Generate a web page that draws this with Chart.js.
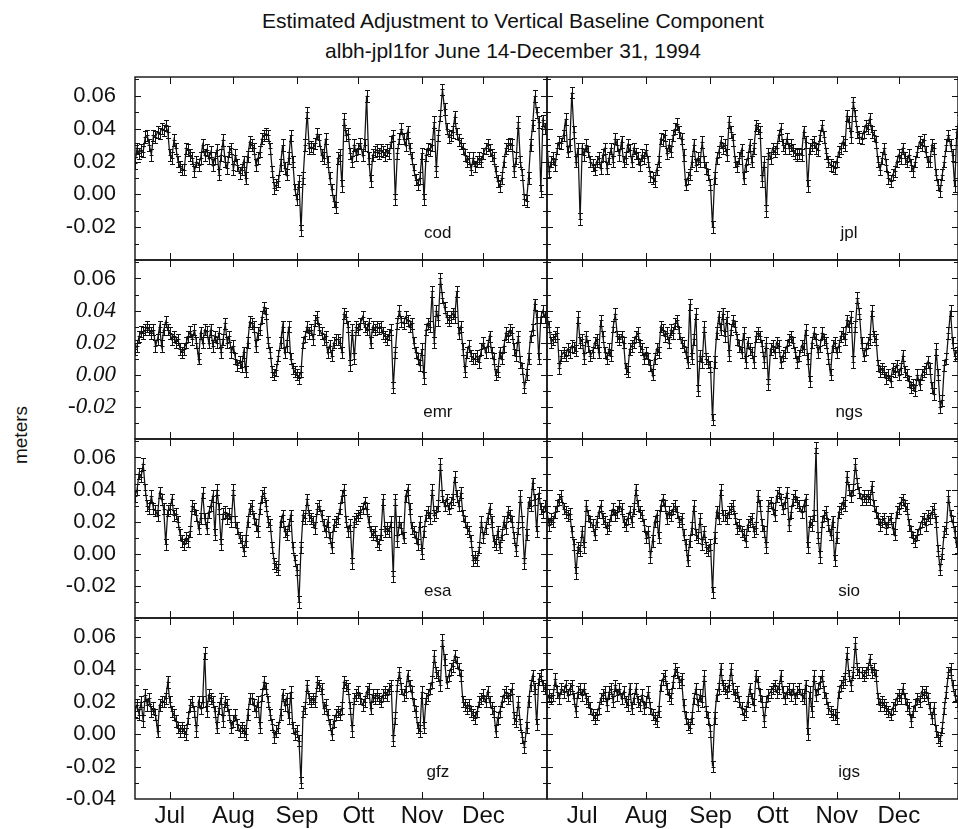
<!DOCTYPE html>
<html>
<head>
<meta charset="utf-8">
<title>Estimated Adjustment to Vertical Baseline Component</title>
<script src="https://cdn.jsdelivr.net/npm/chart.js@4.4.1/dist/chart.umd.min.js"></script>
<style>
  html, body { margin: 0; padding: 0; background: #fff; overflow: hidden; }
  #page { position: relative; width: 958px; height: 829px; overflow: hidden;
          font-family: "Liberation Sans", Arial, sans-serif; color: #111; }
  .title { position: absolute; left: 213px; width: 600px; text-align: center;
           font-size: 21px; line-height: 24px; white-space: nowrap; }
  #ylab { position: absolute; left: 21px; top: 435px; font-size: 19px;
          transform: translate(-50%, -50%) rotate(-90deg); white-space: nowrap; }
  canvas { position: absolute; }
</style>
</head>
<body>
<div id="page">
  <div class="title" style="top:9px">Estimated Adjustment to Vertical Baseline Component</div>
  <div class="title" style="top:39px">albh-jpl1for June 14-December 31, 1994</div>
  <div id="ylab">meters</div>
</div>

<script>
// Daily values, June 14 (index 0) to December 31 (index 200), in millimetres
const cod = [
  19, 28, 25, 27, 26, 35, 36, 30, 24, 36,
  35, 38, 37, 40, 39, 42, 38, 24, 22, 33,
  28, 20, 17, 15, 15, 28, 27, 24, 22, 14,
  20, 18, 22, 30, 24, 27, 22, 26, 18, 22,
  27, 12, 24, 33, 20, 16, 26, 28, 15, 24,
  18, 13, 15, 20, 10, 23, 32, 30, 28, 18,
  22, 26, 34, 36, 37, 36, 28, 14, 4, 6,
  8, 18, 30, 16, 12, 22, 36, 20, 3, -3,
  8, -22, 10, 30, 50, 28, 29, 28, 31, 37,
  33, 24, 22, 34, 20, 10, 3, -4, -8, 22,
  24, 5, 46, 36, 37, 25, 20, 30, 24, 28,
  31, 24, 30, 60, 22, 8, 24, 26, 27, 25,
  27, 26, 24, 27, 25, 32, 36, -3, 25, 34,
  40, 34, 30, 38, 28, 22, 15, 9, 6, 10,
  25, -3, 24, 28, 27, 30, 44, 14, 36, 48,
  64, 52, 40, 35, 36, 38, 47, 37, 33, 31,
  28, 24, 20, 22, 15, 22, 17, 20, 22, 20,
  25, 28, 30, 27, 24, 22, 14, 8, 5, 10,
  20, 28, 30, 31, 30, 14, 22, 44, 20, 12,
  -3, -4, 10, 30, 42, 60, 50, 44, 2, 45,
  40
];
const jpl = [
  30, 14, 20, 22, 18, 28, 32, 31, 36, 46,
  26, 30, 62, 38, 20, 28, -15, 28, 24, 30,
  26, 20, 18, 15, 20, 22, 16, 24, 28, 16,
  22, 28, 20, 34, 30, 24, 32, 20, 22, 30,
  27, 20, 28, 25, 22, 18, 24, 22, 27, 20,
  11, 10, 8, 15, 20, 34, 33, 36, 25, 30,
  26, 36, 40, 43, 38, 34, 24, 6, 10, 12,
  20, 30, 18, 22, 20, 32, 20, 16, 12, 6,
  -20, 10, 22, 26, 32, 28, 30, 24, 44, 38,
  33, 20, 17, 22, 27, 10, 18, 22, 30, 20,
  28, 42, 40, 38, 8, 20, -10, 25, 22, 28,
  26, 28, 36, 40, 30, 28, 34, 28, 30, 27,
  25, 24, 25, 24, 38, 32, 5, 28, 30, 32,
  28, 27, 36, 42, 35, 25, 20, 18, 17, 16,
  20, 26, 28, 32, 30, 48, 44, 35, 56, 48,
  38, 35, 34, 38, 42, 40, 46, 38, 36, 32,
  20, 15, 22, 28, 18, 10, 8, 12, 14, 20,
  24, 22, 28, 22, 20, 24, 18, 14, 20, 26,
  32, 30, 33, 26, 20, 20, 30, 28, 12, 6,
  2, 12, 20, 30, 36, 30, 24, 5, 38, 45,
  40
];
const emr = [
  16, 18, 24, 27, 26, 28, 30, 28, 26, 28,
  18, 22, 30, 18, 28, 33, 28, 26, 22, 24,
  20, 22, 16, 14, 16, 20, 24, 27, 22, 28,
  20, 10, 26, 20, 28, 27, 20, 28, 18, 24,
  20, 26, 14, 22, 32, 20, 24, 14, 18, 10,
  6, 8, 5, 14, 2, 20, 33, 32, 30, 18,
  26, 28, 36, 42, 38, 20, 14, 2, 0, 3,
  12, 20, 30, 14, 18, 30, 10, 4, 2, 0,
  -2, 2, 20, 24, 30, 26, 28, 22, 34, 36,
  28, 26, 22, 24, 14, 18, 12, 20, 22, 22,
  20, 14, 38, 36, 30, 6, 28, 10, 30, 28,
  32, 36, 30, 28, 32, 20, 30, 28, 30, 29,
  30, 26, 24, 22, 25, 28, -8, 14, 32, 40,
  33, 32, 36, 34, 30, 32, 20, 14, 10, 6,
  16, -2, 28, 32, 30, 52, 20, 40, 34, 60,
  48, 42, 36, 34, 36, 38, 36, 52, 26, 30,
  16, 2, 14, 18, 12, 10, 10, 12, 8, 16,
  20, 14, 18, 24, 14, 10, 0, 2, 14, 10,
  18, 26, 24, 28, 26, 16, 12, 24, 8, 4,
  -8, 0, 10, 24, 28, 44, 36, 10, 36, 40,
  36
];
const ngs = [
  36, 30, 20, 22, 24, 26, 4, 12, 14, 12,
  16, 14, 18, 17, 15, 36, 20, 22, 10, 24,
  18, 12, 14, 20, 22, 14, 34, 24, 14, 10,
  16, 12, 30, 38, 24, 22, 24, 20, 4, 2,
  16, 18, 20, 24, 26, 18, 16, 10, 14, 10,
  6, 0, 10, 16, 14, 30, 28, 24, 26, 20,
  28, 26, 32, 34, 26, 20, 18, 14, 8, 44,
  10, 22, 38, -10, 12, 8, 30, 10, 8, 5,
  -28, 8, 26, 36, 28, 38, 24, 36, 12, 28,
  34, 30, 22, 18, 14, 26, 8, 20, 16, 14,
  8, 24, 26, 24, 18, 8, 20, -6, 16, 18,
  14, 20, 18, 8, 12, 14, 18, 22, 24, 20,
  14, 8, 12, 18, 16, 28, 10, -4, 20, 26,
  22, 14, 18, 26, 22, 20, 10, 0, 18, 20,
  14, 18, 24, 26, 22, 34, 30, 36, 8, 30,
  48, 38, 20, 12, 16, 20, 22, 40, 24, 22,
  6, 2, 4, 2, -2, 0, -4, 4, 2, 6,
  0, 4, 12, 2, 0, -4, -8, -6, -10, 0,
  -6, 0, 2, 4, 8, 4, -8, -12, 16, 0,
  -20, -16, 6, 10, 26, 40, 20, 12, 14, 18,
  16
];
const esa = [
  36, 40, 50, 48, 56, 40, 30, 28, 36, 28,
  27, 24, 38, 34, 28, 6, 27, 28, 34, 24,
  25, 20, 12, 8, 6, 10, 8, 14, 30, 28,
  24, 16, 22, 38, 22, 16, 26, 30, 36, 12,
  40, 28, 6, 25, 26, 22, 25, 20, 40, 20,
  16, 10, 8, 2, 8, 20, 28, 30, 22, 18,
  14, 28, 36, 38, 30, 20, 18, 4, -6, -8,
  -10, 20, 24, 14, 12, 18, 24, 4, -4, -10,
  -30, 4, 24, 22, 34, 24, 22, 20, 16, 28,
  30, 24, 18, 14, 20, 10, 4, 18, 20, 22,
  28, 36, 40, 20, 14, 18, -6, 20, 22, 24,
  26, 28, 32, 28, 20, 14, 12, 14, 8, 6,
  12, 34, 14, 16, 14, 20, -14, 34, 8, 20,
  16, 10, 36, 40, 28, 16, 14, 10, 6, 20,
  0, 14, 24, 26, 22, 40, 24, 26, 30, 56,
  36, 30, 34, 28, 32, 34, 48, 36, 30, 38,
  24, 20, 16, 14, 8, -4, -2, -4, 4, 20,
  10, 16, 22, 28, 20, 8, 6, 14, 4, 12,
  20, 16, 26, 24, 20, 10, 2, 16, 36, 20,
  -6, 12, 32, 30, 44, 34, 14, 38, 28, 26,
  30
];
const sio = [
  26, 18, 22, 20, 26, 30, 34, 36, 28, 26,
  24, 25, 14, 6, -12, 4, 2, 14, 4, 30,
  24, 20, 18, 12, 20, 26, 30, 22, 20, 16,
  18, 24, 28, 24, 26, 30, 28, 20, 18, 22,
  26, 20, 28, 40, 30, 26, 24, 18, 10, 14,
  -2, 8, 20, 24, 10, 30, 34, 30, 22, 26,
  24, 28, 30, 26, 20, 22, 12, 6, -4, 8,
  16, 30, 12, 10, 22, 6, 14, 4, 2, 6,
  -24, 10, 26, 22, 40, 24, 24, 22, 26, 28,
  30, 22, 16, 18, 14, 12, 8, 18, 20, 22,
  14, 16, 36, 30, 18, 14, 4, 30, 32, 28,
  24, 36, 38, 34, 28, 32, 38, 18, 26, 34,
  36, 32, 30, 26, 30, 34, 4, 20, 18, 24,
  66, 10, -2, 20, 24, 26, 18, 12, 20, -4,
  10, 26, 28, 32, 30, 48, 40, 36, 40, 56,
  44, 38, 34, 36, 34, 36, 34, 42, 30, 26,
  22, 18, 20, 22, 16, 20, 22, 16, 12, 26,
  28, 32, 34, 30, 28, 18, 14, 10, 8, 12,
  16, 20, 22, 18, 24, 22, 26, 28, 20, 2,
  -10, 0, 14, 16, 36, 24, 20, 14, 4, 22,
  26
];
const gfz = [
  14, 18, 12, 20, 8, 24, 18, 22, 14, 16,
  12, 2, 18, 20, 20, 22, 32, 20, 14, 12,
  8, 4, 2, 4, 2, 0, 10, 18, 20, 14,
  2, 20, 16, 20, 50, 14, 24, 22, 20, 14,
  4, 16, 22, 8, 20, 18, 12, 4, 8, 12,
  6, 2, 4, 2, 0, 12, 22, 22, 18, 14,
  20, 4, 24, 32, 28, 20, 12, 6, -2, 2,
  4, 12, 24, 18, 22, 10, 26, 4, 0, 2,
  -4, -30, 14, 16, 30, 22, 20, 22, 20, 32,
  30, 28, 16, 18, 12, 6, 0, 8, 12, 14,
  12, 16, 32, 30, 28, 16, 2, 22, 24, 26,
  22, 18, 20, 26, 28, 16, 24, 22, 24, 22,
  20, 24, 26, 24, 28, 30, -4, 10, 30, 38,
  28, 24, 26, 36, 30, 26, 18, 14, 4, 2,
  26, 4, 22, 24, 28, 32, 48, 38, 36, 30,
  58, 46, 32, 36, 40, 42, 48, 44, 40, 36,
  20, 18, 16, 18, 14, 12, 10, 14, 20, 22,
  24, 20, 26, 20, 16, 14, 2, 10, 14, 20,
  24, 26, 22, 24, 28, 10, 8, 20, 6, -2,
  -8, 4, 20, 30, 36, 28, 6, 34, 36, 30,
  28
];
const igs = [
  20, 24, 22, 24, 34, 26, 22, 28, 26, 30,
  24, 28, 30, 22, 14, 26, 28, 24, 28, 22,
  20, 16, 12, 10, 12, 16, 22, 24, 26, 18,
  26, 28, 20, 30, 24, 28, 22, 26, 20, 18,
  28, 16, 22, 28, 20, 18, 24, 16, 20, 26,
  16, 12, 10, 8, 14, 30, 34, 36, 28, 24,
  22, 32, 40, 38, 32, 34, 18, 10, 6, 4,
  10, 22, 28, 18, 24, 20, 36, 14, 10, 2,
  -20, 10, 24, 28, 40, 30, 28, 26, 30, 40,
  28, 24, 26, 20, 16, 12, 14, 20, 28, 22,
  18, 36, 32, 24, 20, 8, 20, 24, 26, 28,
  30, 26, 28, 36, 26, 22, 26, 28, 24, 28,
  22, 26, 28, 24, 22, 30, 0, 26, 14, 36,
  24, 28, 32, 36, 26, 22, 16, 14, 12, 12,
  10, 26, 30, 32, 34, 50, 36, 30, 38, 56,
  40, 38, 38, 36, 38, 40, 46, 38, 40, 36,
  22, 18, 20, 18, 16, 14, 12, 16, 18, 22,
  24, 22, 28, 22, 18, 16, 8, 14, 18, 22,
  20, 26, 24, 26, 22, 16, 10, 16, 2, -2,
  -4, 4, 16, 26, 38, 40, 30, 24, 20, 18,
  16
];

// Axis ticks
const monthStarts = [17, 48, 79, 109, 140, 170];   // day index of the 1st of each month
const monthLabels = ["Jul", "Aug", "Sep", "Ott", "Nov", "Dec"];
const yTicks = [-0.02, 0, 0.02, 0.04, 0.06];
const yTicksBottom = [-0.04, -0.02, 0, 0.02, 0.04, 0.06];
const errorHalfWidth = 0.0035; // typical error bar size, meters

// Panel grid (page pixels)
const ROW_EDGES = [77, 260, 439, 618, 799];
const COL_EDGES = [135, 547, 958];
const X_MAX = [201, 198.6];
const PAD = 16;
const AXIS_H = 40;
const FONT = '"Liberation Sans", Arial, sans-serif';
const INK = "#111";

const panels = [
  { name: "cod", data: cod, row: 0, col: 0 },
  { name: "jpl", data: jpl, row: 0, col: 1 },
  { name: "emr", data: emr, row: 1, col: 0 },
  { name: "ngs", data: ngs, row: 1, col: 1 },
  { name: "esa", data: esa, row: 2, col: 0 },
  { name: "sio", data: sio, row: 2, col: 1 },
  { name: "gfz", data: gfz, row: 3, col: 0 },
  { name: "igs", data: igs, row: 3, col: 1 }
];

// error bars with caps plus a short tick at each value
const errorBars = {
  id: "errorBars",
  afterDatasetsDraw(chart) {
    const { ctx, chartArea: a, scales: { x, y } } = chart;
    ctx.save();
    ctx.beginPath();
    ctx.rect(a.left, a.top, a.right - a.left, a.bottom - a.top);
    ctx.clip();
    ctx.strokeStyle = INK;
    ctx.lineWidth = 1;
    ctx.beginPath();
    chart.data.datasets[0].data.forEach(pt => {
      const px = Math.round(x.getPixelForValue(pt.x)) + 0.5;
      const hi = Math.round(y.getPixelForValue(pt.y + errorHalfWidth)) + 0.5;
      const lo = Math.round(y.getPixelForValue(pt.y - errorHalfWidth)) + 0.5;
      const py = Math.round(y.getPixelForValue(pt.y)) + 0.5;
      ctx.moveTo(px, hi); ctx.lineTo(px, lo);
      ctx.moveTo(px - 2.5, hi); ctx.lineTo(px + 2.5, hi);
      ctx.moveTo(px - 2.5, lo); ctx.lineTo(px + 2.5, lo);
      ctx.moveTo(px - 2, py); ctx.lineTo(px + 2, py);
    });
    ctx.stroke();
    ctx.restore();
  }
};

// frame, inward tick marks and the panel name
const panelDecor = {
  id: "panelDecor",
  afterDraw(chart, args, opts) {
    const { ctx, chartArea: a, scales: { x, y } } = chart;
    ctx.save();
    ctx.strokeStyle = INK;
    ctx.lineWidth = 1;
    ctx.beginPath();
    for (let k = -4; k <= 7; k++) {
      const py = Math.round(y.getPixelForValue(k / 100)) + 0.5;
      if (py < a.top + 2 || py > a.bottom - 2) continue;
      const len = k % 2 === 0 ? 6 : 4;
      ctx.moveTo(a.left, py); ctx.lineTo(a.left + len, py);
      ctx.moveTo(a.right, py); ctx.lineTo(a.right - len, py);
    }
    monthStarts.forEach(m => {
      const px = Math.round(x.getPixelForValue(m)) + 0.5;
      ctx.moveTo(px, a.top); ctx.lineTo(px, a.top + 7);
      ctx.moveTo(px, a.bottom); ctx.lineTo(px, a.bottom - 7);
    });
    ctx.stroke();
    ctx.lineWidth = 1.4;
    ctx.strokeRect(a.left, a.top, a.right - a.left, a.bottom - a.top);
    ctx.fillStyle = INK;
    ctx.font = "17px " + FONT;
    ctx.textAlign = "center";
    ctx.textBaseline = "middle";
    ctx.fillText(opts.name, a.left + 0.735 * (a.right - a.left), a.bottom - 27);
    ctx.restore();
  }
};

// keep label overflow from shrinking the plot box
function noPadding(s) {
  s.paddingTop = 0;
  s.paddingBottom = 0;
  s.paddingLeft = 0;
  s.paddingRight = 0;
}

function makePanel(p) {
  const isLeft = p.col === 0;
  const isBottom = p.row === 3;
  const top = ROW_EDGES[p.row], bottom = ROW_EDGES[p.row + 1];
  const left = COL_EDGES[p.col], right = COL_EDGES[p.col + 1];
  const boxLeft = isLeft ? 0 : left - PAD;
  const boxWidth = right + PAD - boxLeft;
  const boxTop = top - PAD;
  const boxHeight = (bottom - top) + PAD + (isBottom ? AXIS_H : PAD);

  const canvas = document.createElement("canvas");
  canvas.width = boxWidth;
  canvas.height = boxHeight;
  canvas.style.left = boxLeft + "px";
  canvas.style.top = boxTop + "px";
  canvas.style.width = boxWidth + "px";
  canvas.style.height = boxHeight + "px";
  document.getElementById("page").appendChild(canvas);

  new Chart(canvas, {
    type: "line",
    data: {
      datasets: [{
        data: p.data.map((v, i) => ({ x: i, y: v / 1000 })),
        borderColor: INK,
        borderWidth: 1.25,
        pointRadius: 0,
        tension: 0
      }]
    },
    options: {
      responsive: false,
      animation: false,
      devicePixelRatio: 1,
      layout: { padding: { left: isLeft ? 0 : PAD, right: PAD, top: PAD, bottom: isBottom ? 0 : PAD } },
      plugins: {
        legend: { display: false },
        tooltip: { enabled: false },
        panelDecor: { name: p.name }
      },
      scales: {
        x: {
          type: "linear",
          min: 0,
          max: X_MAX[p.col],
          display: isBottom,
          grid: { display: false, drawTicks: false },
          border: { display: false },
          afterBuildTicks: s => { s.ticks = monthStarts.map(v => ({ value: v })); },
          afterFit: s => { s.height = isBottom ? AXIS_H : 0; noPadding(s); },
          ticks: {
            autoSkip: false,
            maxRotation: 0,
            padding: 3,
            color: INK,
            font: { family: FONT, size: 24 },
            callback: v => monthLabels[monthStarts.indexOf(v)]
          }
        },
        y: {
          min: -0.04,
          max: 0.0715,
          display: isLeft,
          grid: { display: false, drawTicks: false },
          border: { display: false },
          afterBuildTicks: s => { s.ticks = (isBottom ? yTicksBottom : yTicks).map(v => ({ value: v })); },
          afterFit: s => { s.width = isLeft ? COL_EDGES[0] : 0; noPadding(s); },
          ticks: {
            padding: 19,
            color: INK,
            // the second row of the original is printed in an italic serif face
            font: ctx => (p.row === 1 && ctx.tick && ctx.tick.value < 0.05)
              ? { family: '"Liberation Serif", serif', style: "italic", size: 23 }
              : { family: FONT, size: 22 },
            callback: v => v.toFixed(2)
          }
        }
      }
    },
    plugins: [errorBars, panelDecor]
  });
}

panels.forEach(makePanel);
</script>
</body>
</html>
